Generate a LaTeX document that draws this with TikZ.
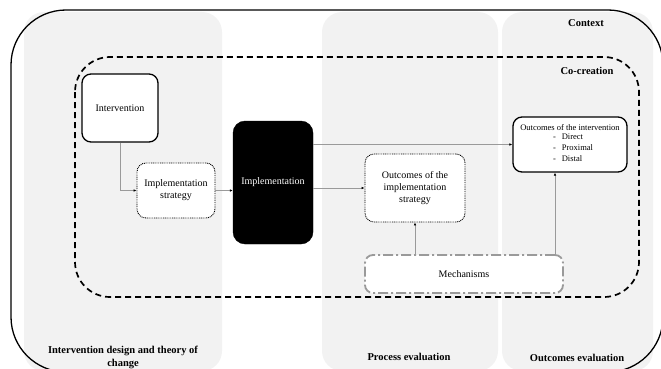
\documentclass[tikz,border=0pt]{standalone}
\usepackage{fontspec}
\setmainfont{Liberation Serif}
\usetikzlibrary{arrows.meta,calc}
\definecolor{panelgray}{HTML}{F2F2F2}
\definecolor{linegray}{HTML}{9A9A9A}
\tikzset{
  panel/.style={fill=panelgray, draw=none, rounded corners=20pt},
  boxsolid/.style={draw=black, line width=1.3pt, fill=white, rounded corners=9pt, align=center, font=\fontsize{10}{12}\selectfont},
  boxdotted/.style={draw=black, line width=0.9pt, dash pattern=on 0.9pt off 0.9pt, fill=white, rounded corners=9pt, align=center, font=\fontsize{10}{12}\selectfont},
  boxblack/.style={draw=black, fill=black, text=white, rounded corners=12pt, align=center, font=\fontsize{10}{12}\selectfont},
  boxmech/.style={draw=linegray, line width=1.8pt, dash pattern=on 10pt off 3pt on 2pt off 3pt, fill=white, rounded corners=8pt, align=center, font=\fontsize{10}{12}\selectfont},
  conn/.style={draw=linegray, line width=0.6pt, -{Latex[length=3pt,width=2.6pt,color=black]}},
  lab/.style={font=\fontsize{10.5}{13}\selectfont\bfseries, align=center, inner sep=0pt},
}
\begin{document}
\begin{tikzpicture}[x=1pt,y=-1pt]
\useasboundingbox (0,0) rectangle (661,369);
\clip (0,0) rectangle (661,369);
% evaluation panels
\fill[panel] (24,12) rectangle (222,371);
\fill[panel] (322,12) rectangle (498,371);
\fill[panel] (502,12) rectangle (653,371);
% context
\draw[line width=1.3pt, rounded corners=55pt] (11,10) rectangle (663,372);
% co-creation
\draw[line width=1.7pt, dash pattern=on 6pt off 4pt, rounded corners=35pt] (75,57) rectangle (639,297);
% labels
\node[lab] (ctx) at (586,23) {Context};
\node[lab] (cocr) at (587,71) {Co-creation};
\node[lab] (lab1) at (123,357) {Intervention design and theory of\\change};
\node[lab] (lab2) at (409,357) {Process evaluation};
\node[lab] (lab3) at (577,358) {Outcomes evaluation};
% nodes
\node[boxsolid, minimum width=76pt, minimum height=68pt] (interv) at (120,108) {Intervention};
\node[boxdotted, minimum width=78pt, minimum height=55pt] (istrat) at (176,190.5) {Implementation\\strategy};
\node[boxblack, minimum width=80pt, minimum height=123pt] (impl) at (273,182.5) {Implementation};
\node[boxdotted, minimum width=100pt, minimum height=68pt] (ostrat) at (415,188) {Outcomes of the\\implementation\\strategy};
\node[boxsolid, minimum width=114pt, minimum height=55pt, font=\fontsize{8.5}{11}\selectfont] (ointerv) at (570,144.5) {Outcomes of the intervention\\\hspace*{6pt}\begin{tabular}{@{}l@{}}-\hspace{6pt}Direct\\-\hspace{6pt}Proximal\\-\hspace{6pt}Distal\end{tabular}};
\node[boxmech, minimum width=198pt, minimum height=38pt] (mech) at (464,274) {Mechanisms};
% connectors
\draw[conn] (interv.south) |- (istrat.west);
\draw[conn] (istrat.east) -- (istrat.east -| impl.west);
\draw[conn] (ostrat.west -| impl.east) -- (ostrat.west);
\draw[conn] (ointerv.west -| impl.east) -- (ointerv.west);
\draw[conn] (ostrat.south |- mech.north) -- (ostrat.south);
\coordinate (m2) at (555,255);
\draw[conn] (m2) -- (m2 |- ointerv.south);
\end{tikzpicture}
\end{document}
